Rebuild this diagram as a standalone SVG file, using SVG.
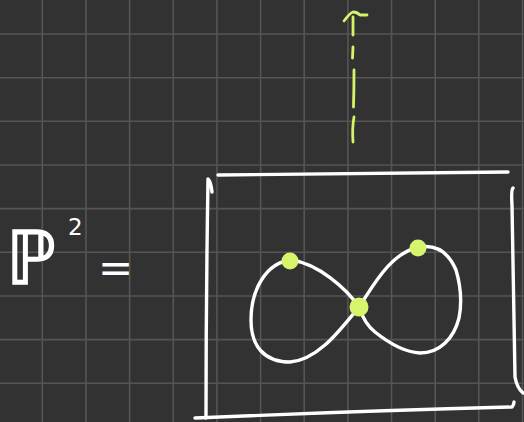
<svg xmlns="http://www.w3.org/2000/svg" width="524" height="422" viewBox="0 0 524 422">
<defs>
<style>
.grid line{stroke:#555555;stroke-width:1.6}
.w{fill:none;stroke:#ffffff;stroke-width:3.4;stroke-linecap:round;stroke-linejoin:round}
.g{fill:none;stroke:#d3f36a;stroke-width:2.8;stroke-linecap:round;stroke-linejoin:round}
.dot{fill:#d6f56c}
.t{fill:#ffffff;font-family:"DejaVu Sans",sans-serif}
</style>
</defs>
<rect width="524" height="422" fill="#323232"/>
<g class="grid">
<line x1="42.3" y1="0" x2="42.3" y2="422"/>
<line x1="86" y1="0" x2="86" y2="422"/>
<line x1="129.6" y1="0" x2="129.6" y2="422"/>
<line x1="173.3" y1="0" x2="173.3" y2="422"/>
<line x1="216.9" y1="0" x2="216.9" y2="422"/>
<line x1="260.6" y1="0" x2="260.6" y2="422"/>
<line x1="304.2" y1="0" x2="304.2" y2="422"/>
<line x1="347.9" y1="0" x2="347.9" y2="422"/>
<line x1="391.5" y1="0" x2="391.5" y2="422"/>
<line x1="435.2" y1="0" x2="435.2" y2="422"/>
<line x1="478.8" y1="0" x2="478.8" y2="422"/>
<line x1="522.5" y1="0" x2="522.5" y2="422"/>
<line x1="0" y1="34" x2="524" y2="34"/>
<line x1="0" y1="77.7" x2="524" y2="77.7"/>
<line x1="0" y1="121.3" x2="524" y2="121.3"/>
<line x1="0" y1="165" x2="524" y2="165"/>
<line x1="0" y1="208.6" x2="524" y2="208.6"/>
<line x1="0" y1="252.3" x2="524" y2="252.3"/>
<line x1="0" y1="296" x2="524" y2="296"/>
<line x1="0" y1="339.6" x2="524" y2="339.6"/>
<line x1="0" y1="383.3" x2="524" y2="383.3"/>
</g>
<g id="label">
<text class="t" x="6" y="284" font-size="74" stroke="#ffffff" stroke-width="1.5" textLength="50" lengthAdjust="spacingAndGlyphs">ℙ</text>
<text class="t" x="68" y="235" font-size="23">2</text>
<text class="t" x="98" y="282" font-size="42">=</text>
</g>
<g id="arrow">
<path class="g" d="M353,17 L353,35 M344,21 Q350,13 353,12 Q357,12 360,15 L367,15 M353,47 L352.5,58 M354,70 Q354,90 353.5,107 M354,117 Q352,128 353,142"/>
</g>
<g id="frame">
<path class="w" d="M218,175 Q360,174 508,172"/>
<path class="w" d="M208,179 Q211,182 212,192 M208,180 Q206,300 206,418"/>
<path class="w" d="M195,418 Q360,411 512,407 Q514,405 514,402"/>
<path class="w" d="M513,188 Q511,190 512,205 Q514,300 515,377 Q517,388 523,393"/>
</g>
<g id="curve">
<path class="w" d="M359,307 C346,288 318,264 292,260 C266,262 251,290 251,320 C251,346 264,362 290,362 C318,360 340,330 359,307 C372,288 390,252 420,247 C440,244 450,256 456,270 C461,287 462,303 459,318 C454,338 440,353 420,353 C402,352 385,340 375,332 C366,325 362,316 359,307"/>
</g>
<g id="points">
<circle class="dot" cx="290" cy="261" r="8.5"/>
<circle class="dot" cx="418" cy="248" r="8.5"/>
<circle class="dot" cx="359" cy="307" r="9.5"/>
</g>
</svg>
